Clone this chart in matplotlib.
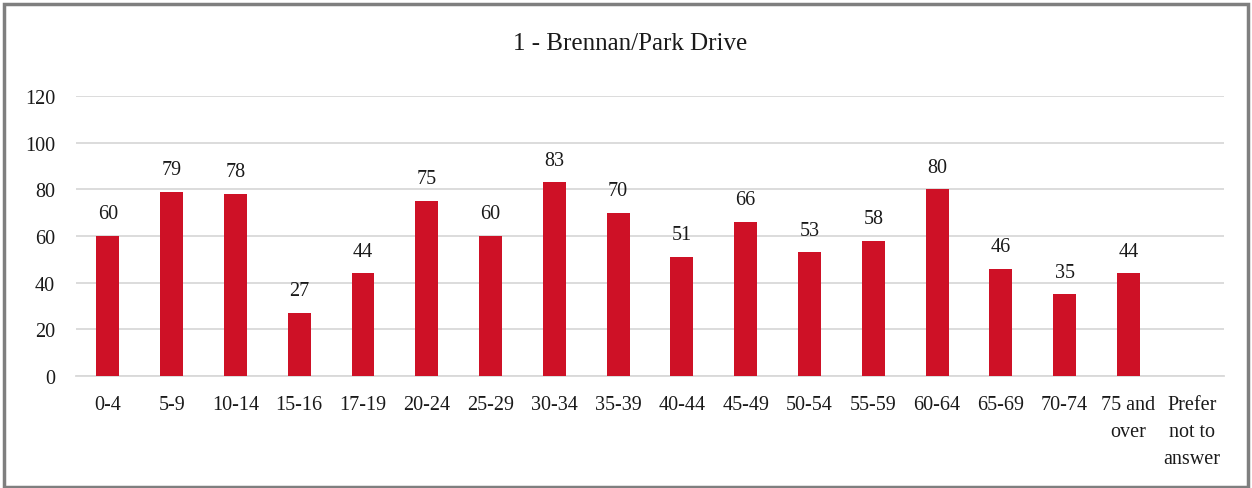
import matplotlib
matplotlib.use("Agg")
import matplotlib.pyplot as plt
from matplotlib.patches import Rectangle

categories = ["0-4", "5-9", "10-14", "15-16", "17-19", "20-24", "25-29", "30-34",
              "35-39", "40-44", "45-49", "50-54", "55-59", "60-64", "65-69",
              "70-74", "75 and\nover", "Prefer\nnot to\nanswer"]
counts = [60, 79, 78, 27, 44, 75, 60, 83, 70, 51, 66, 53, 58, 80, 46, 35, 44, 0]
title = "1 - Brennan/Park Drive"
yticks = [0, 20, 40, 60, 80, 100, 120]

BAR = "#CE1126"
plt.rcParams["font.family"] = ["Liberation Serif", "DejaVu Serif"]

fig = plt.figure(figsize=(12.52, 4.89), dpi=100)
ax = fig.add_axes([0.0607, 0.229, 0.917, 0.573])

x = list(range(len(categories)))
ax.bar(x, counts, width=0.36, color=BAR, zorder=3)
for xi, v in zip(x, counts):
    if v:
        ax.annotate(str(v), (xi, v), xytext=(0, 9), textcoords="offset points",
                    ha="center", va="bottom", fontsize=14.5, color="#1a1a1a")

ax.set_xlim(-0.5, len(categories) - 0.5)
ax.set_ylim(0, 120)
ax.set_yticks(yticks)
ax.set_xticks(x)
ax.set_xticklabels(categories, fontsize=14.5, color="#1a1a1a", linespacing=1.55,
                   multialignment="center")
ax.tick_params(axis="y", labelsize=14.5, colors="#1a1a1a", length=0, pad=15)
ax.tick_params(axis="x", length=0, pad=14)
ax.grid(axis="y", color="#d9d9d9", linewidth=1.3, zorder=0)
for s in ["top", "right", "left"]:
    ax.spines[s].set_visible(False)
ax.spines["bottom"].set_color("#d9d9d9")
ax.spines["bottom"].set_linewidth(1.3)

fig.text(0.503, 0.91, title, ha="center", va="center", fontsize=18, color="#1a1a1a")

# grey frame round the chart
fig.patches.append(Rectangle((0.003, 0.003), 0.994, 0.986, transform=fig.transFigure,
                             fill=False, edgecolor="#7f7f7f", linewidth=2.5))

fig.savefig("out.png", dpi=100)
